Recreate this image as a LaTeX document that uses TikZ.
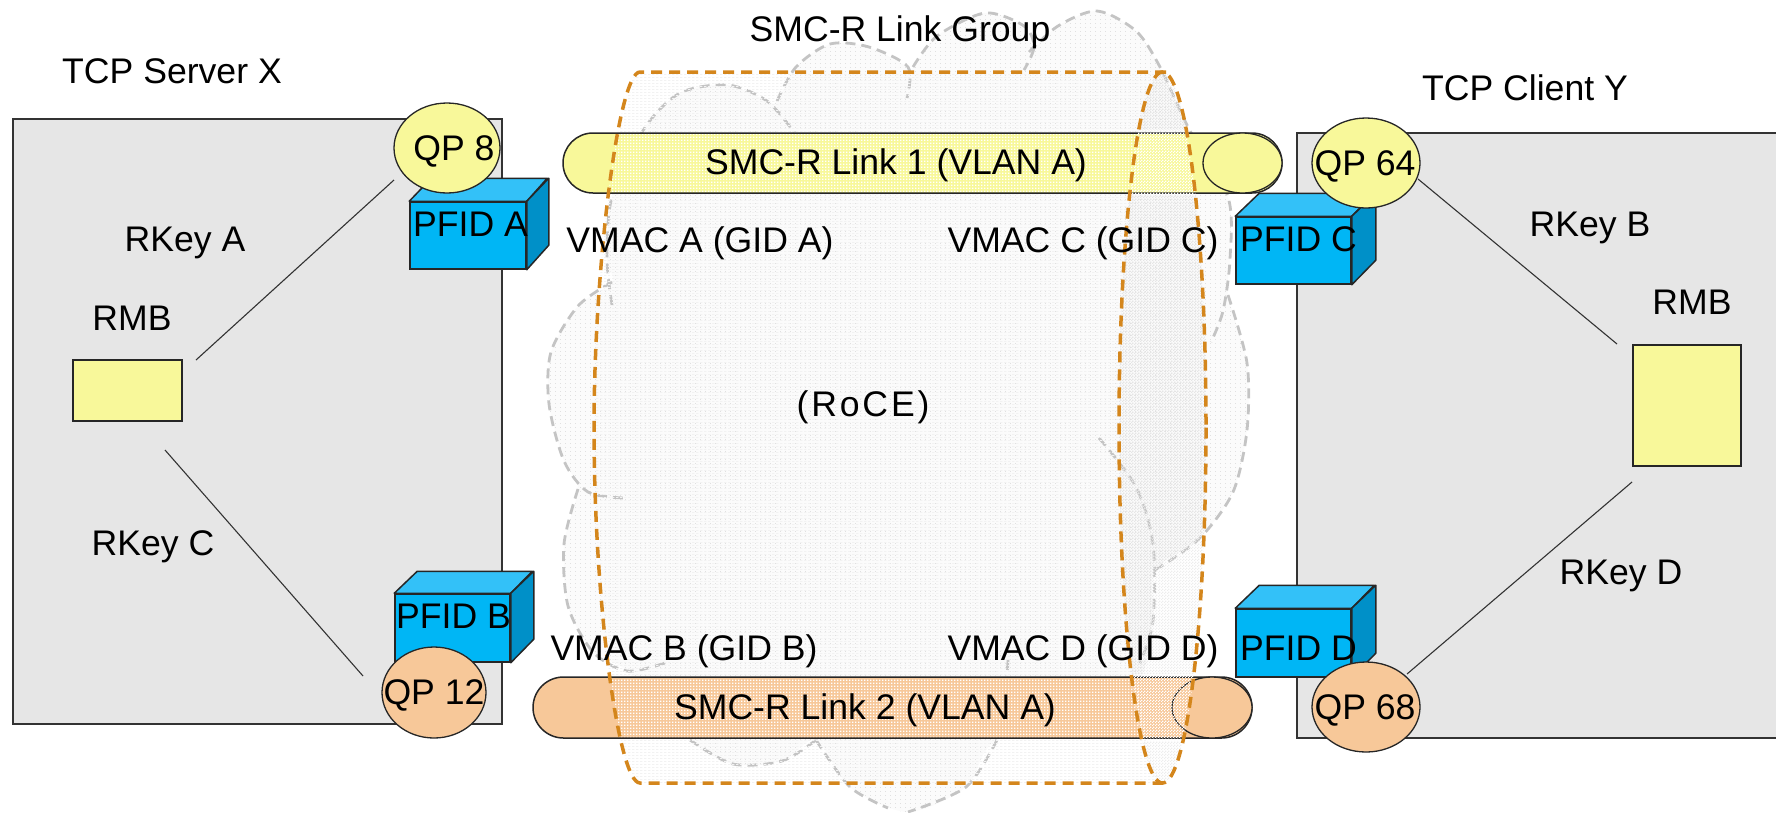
\documentclass[tikz,border=0pt]{standalone}
\usepackage{fontspec}
\setmainfont{Liberation Sans}
\usetikzlibrary{shapes.geometric,shapes.misc,patterns}
\definecolor{boxgray}{HTML}{E6E6E6}
\definecolor{ylw}{HTML}{F8F89A}
\definecolor{org}{HTML}{F7C899}
\definecolor{cubef}{HTML}{00B6F5}
\definecolor{cubet}{HTML}{33C1F8}
\definecolor{cubes}{HTML}{0090C8}
\definecolor{canline}{HTML}{D4861C}
\definecolor{cloudline}{HTML}{C4C4C4}
\pgfdeclarepatternformonly{sparsedots}{\pgfqpoint{0pt}{0pt}}{\pgfqpoint{1pt}{1pt}}{\pgfqpoint{5pt}{4pt}}{%
  \pgfpathrectangle{\pgfqpoint{0pt}{0pt}}{\pgfqpoint{1.4pt}{1.2pt}}\pgfusepath{fill}}
\pgfdeclarepatternformonly{brick}{\pgfqpoint{0pt}{0pt}}{\pgfqpoint{4pt}{3pt}}{\pgfqpoint{4pt}{3pt}}{%
  \pgfpathrectangle{\pgfqpoint{0pt}{0pt}}{\pgfqpoint{3pt}{1pt}}\pgfusepath{fill}}
\pgfdeclarepatternformonly{whitedots}{\pgfqpoint{0pt}{0pt}}{\pgfqpoint{3pt}{3pt}}{\pgfqpoint{3pt}{3pt}}{%
  \pgfpathrectangle{\pgfqpoint{0pt}{0pt}}{\pgfqpoint{1.8pt}{1.8pt}}\pgfusepath{fill}}
\pgfdeclarepatternformonly{checks}{\pgfqpoint{0pt}{0pt}}{\pgfqpoint{3pt}{3pt}}{\pgfqpoint{3pt}{3pt}}{%
  \pgfpathrectangle{\pgfqpoint{0pt}{0pt}}{\pgfqpoint{1.5pt}{1.5pt}}%
  \pgfpathrectangle{\pgfqpoint{1.5pt}{1.5pt}}{\pgfqpoint{1.5pt}{1.5pt}}\pgfusepath{fill}}
\tikzset{
  x=1pt,y=-1pt,
  lbl/.style={inner sep=0pt,font=\fontsize{35.6}{38}\selectfont,text=black,yshift=-3.5pt},
  hostbox/.style={rectangle,draw=black!80,line width=1.5pt,fill=boxgray,inner sep=0pt},
  rmbbox/.style={rectangle,draw=black!85,line width=1.5pt,fill=ylw,inner sep=0pt},
  qpy/.style={ellipse,draw=black!85,line width=1.3pt,fill=ylw,inner sep=0pt},
  qpo/.style={qpy,fill=org},
  link/.style={rounded rectangle,draw=black!85,line width=1.5pt,inner sep=0pt},
  cubefront/.style={rectangle,draw=black!85,line width=1.5pt,fill=cubef,inner sep=0pt},
  keyline/.style={draw=black!80,line width=1.1pt},
  cubeedge/.style={draw=black!85,line width=1.5pt,line join=round},
  cloudedge/.style={draw=cloudline,line width=2.8pt,dash pattern=on 10pt off 6pt},
  canedge/.style={draw=canline,line width=3.5pt,dash pattern=on 11pt off 7pt},
}
\def\cloudpts{(612,282)(607,259)(612,197)(644,129)(680,93)(728,85)(767,101)(777,101)(796,67)(830,44)(869,47)(908,67)(913,67)(937,36)(985,13)(1024,26)(1034,47)(1058,26)(1097,11)(1136,31)(1160,67)(1189,129)(1228,197)(1230,259)(1228,295)(1247,363)(1247,430)(1233,492)(1199,539)(1155,570)(1153,621)(1140,680)(1100,720)(997,740)(966,787)(908,812)(850,787)(816,740)(782,761)(733,764)(690,740)(627,671)(593,652)(568,606)(564,544)(578,489)(564,461)(549,404)(551,352)(578,306)}
\def\canbody{(640,72) -- (1166,72) .. controls (1150,72) and (1119,250) .. (1119,428) .. controls (1119,606) and (1150,783) .. (1163,783) -- (640,783) .. controls (618,783) and (594,600) .. (594,428) .. controls (594,270) and (618,72) .. (640,72) -- cycle}
\def\canopen{(1166,72) -- (640,72) .. controls (618,72) and (594,270) .. (594,428) .. controls (594,600) and (618,783) .. (640,783) -- (1163,783)}
\def\cancap{(1162.5,427.5) ellipse [x radius=43.5,y radius=355.5]}
\begin{document}
\begin{tikzpicture}
\useasboundingbox (0,0) rectangle (1776,812);
% host boxes
\node[hostbox,minimum width=489pt,minimum height=605pt] (hostx) at (257.5,421.5) {};
\fill[boxgray] (1297,133) rectangle (1776,738);
\node[inner sep=0pt,minimum width=480pt,minimum height=605pt] (hosty) at (1537,435.5) {};
\draw[draw=black!80,line width=1.5pt] (hosty.north east) -- (hosty.north west) -- (hosty.south west) -- (hosty.south east);
% cloud
\path[fill=white!98.5!black] plot[smooth cycle,tension=0.5] coordinates {\cloudpts};
\path[pattern=sparsedots,pattern color=black!12] plot[smooth cycle,tension=0.5] coordinates {\cloudpts};
\draw[cloudedge] plot[smooth] coordinates {(612,305)(607,259)(612,197)(644,129)(680,93)(728,85)(767,101)(794,132)};
\draw[cloudedge] plot[smooth] coordinates {(777,101)(796,67)(830,44)(869,47)(908,67)(907,98)};
\draw[cloudedge] plot[smooth] coordinates {(913,67)(937,36)(985,13)(1024,26)(1034,47)(1024,70)};
\draw[cloudedge] plot[smooth] coordinates {(1029,52)(1058,26)(1097,11)(1136,31)(1160,67)(1189,129)(1228,197)(1230,259)(1223,311)(1211,342)};
\draw[cloudedge] plot[smooth] coordinates {(1228,295)(1247,363)(1247,430)(1233,492)(1199,539)(1155,570)};
\draw[cloudedge] plot[smooth] coordinates {(1099,438)(1136,487)(1153,544)(1153,621)(1140,663)};
\draw[cloudedge] plot[smooth] coordinates {(997,740)(966,787)(908,812)};
\draw[cloudedge] plot[smooth] coordinates {(816,740)(850,787)(888,808)};
\draw[cloudedge] plot[smooth] coordinates {(690,740)(733,764)(782,761)(816,740)};
\draw[cloudedge] plot[smooth] coordinates {(578,489)(564,544)(568,606)(593,652)(627,671)(665,663)};
\draw[cloudedge] plot[smooth] coordinates {(612,282)(578,306)(551,352)(549,404)(564,461)(588,492)(624,498)};
\draw[cloudedge] (1008,660) -- (1007,676);
% can interior shading under the links
\path[pattern=brick,pattern color=black!5] \canbody;
\path[pattern=checks,pattern color=black!7] \cancap;
\begin{scope}
\clip plot[smooth cycle,tension=0.5] coordinates {\cloudpts};
\path[pattern=checks,pattern color=black!10] \cancap;
\end{scope}
% RMB boxes and key lines
\node[rmbbox,minimum width=109pt,minimum height=61pt] (rmbx) at (127.5,390.5) {};
\node[rmbbox,minimum width=108pt,minimum height=121pt] (rmby) at (1687,405.5) {};
\coordinate (ka) at (196,360); \coordinate (kb) at (394,180);
\coordinate (kc) at (165,450); \coordinate (kd) at (363,676);
\coordinate (ke) at (1418,179); \coordinate (kf) at (1617,344);
\coordinate (kg) at (1632,482); \coordinate (kh) at (1407,674);
\draw[keyline] (ka) -- (kb);
\draw[keyline] (kc) -- (kd);
\draw[keyline] (ke) -- (kf);
\draw[keyline] (kg) -- (kh);
% links
\node[link,fill=ylw,minimum width=719pt,minimum height=60pt] (link1) at (922.5,163) {};
\node[ellipse,draw=black!85,line width=1.3pt,fill=ylw,inner sep=0pt,minimum width=79pt,minimum height=60pt] (cap1) at (1242.5,163) {};
\node[link,fill=org,minimum width=719pt,minimum height=61pt] (link2) at (892.5,707.5) {};
\node[ellipse,draw=black!85,line width=1.3pt,fill=org,inner sep=0pt,minimum width=80pt,minimum height=61pt] (cap2) at (1212,707.5) {};
% cubes
\node[cubefront,minimum width=116pt,minimum height=67pt] (fa) at (468,235.5) {};
\draw[cubeedge,fill=cubet] (fa.north west) -- ++(22,-23) -- ++(116,0) -- (fa.north east) -- cycle;
\draw[cubeedge,fill=cubes] (fa.north east) -- ++(22,-23) -- ++(0,67) -- (fa.south east) -- cycle;
\node[cubefront,minimum width=115pt,minimum height=68pt] (fb) at (452.5,628) {};
\draw[cubeedge,fill=cubet] (fb.north west) -- ++(23,-22) -- ++(115,0) -- (fb.north east) -- cycle;
\draw[cubeedge,fill=cubes] (fb.north east) -- ++(23,-22) -- ++(0,68) -- (fb.south east) -- cycle;
\node[cubefront,minimum width=115pt,minimum height=67pt] (fc) at (1293.5,250.5) {};
\draw[cubeedge,fill=cubet] (fc.north west) -- ++(24,-23) -- ++(115,0) -- (fc.north east) -- cycle;
\draw[cubeedge,fill=cubes] (fc.north east) -- ++(24,-23) -- ++(0,67) -- (fc.south east) -- cycle;
\node[cubefront,minimum width=115pt,minimum height=68pt] (fd) at (1293.5,643) {};
\draw[cubeedge,fill=cubet] (fd.north west) -- ++(24,-23) -- ++(115,0) -- (fd.north east) -- cycle;
\draw[cubeedge,fill=cubes] (fd.north east) -- ++(24,-23) -- ++(0,68) -- (fd.south east) -- cycle;
% queue pairs
\node[qpy,minimum width=106pt,minimum height=90pt] (qp8) at (447,148) {};
\node[qpy,minimum width=108pt,minimum height=90pt] (qp64) at (1366,163) {};
\node[qpo,minimum width=104pt,minimum height=91pt] (qp12) at (434,692.5) {};
\node[qpo,minimum width=108pt,minimum height=90pt] (qp68) at (1366,707) {};
% can overlay: pale stipple where it crosses the links
\begin{scope}
\clip (564,134) rectangle (1283,192) (534,678) rectangle (1253,737);
\path[pattern=whitedots,pattern color=white] \canbody;
\end{scope}
\begin{scope}
\clip (564,130) rectangle (1283,196) (534,674) rectangle (1253,741);
\path[pattern=checks,pattern color=white] \cancap;
\end{scope}
\draw[canedge] \canopen;
\draw[canedge] \cancap;
% texts
\node[lbl] (t1) at (172,68) {TCP  Server X};
\node[lbl] (t2) at (900,29) {SMC-R Link Group};
\node[lbl] (t3) at (1525,84) {TCP Client Y};
\node[lbl] (t4) at (185,239) {RKey A};
\node[lbl] (t5) at (132,315) {RMB};
\node[lbl] (t6) at (153,543) {RKey C};
\node[lbl] (t7) at (1590,224) {RKey B};
\node[lbl] (t8) at (1692,299) {RMB};
\node[lbl] (t9) at (1621,572) {RKey D};
\node[lbl] (t10) at (700,240) {VMAC A (GID A)};
\node[lbl] (t11) at (1083,240) {VMAC C (GID C)};
\node[lbl] (t12) at (684,648) {VMAC B (GID B)};
\node[lbl] (t13) at (1083,648) {VMAC D (GID D)};
\node[lbl,font=\fontsize{35.6}{38}\selectfont\addfontfeature{LetterSpace=8}] (t14) at (863,404) {(RoCE)};
\node[lbl] (t15) at (896,162) {SMC-R Link 1 (VLAN A)};
\node[lbl] (t16) at (865,707) {SMC-R Link 2 (VLAN A)};
\node[lbl,anchor=west] (t17) at (413,220.5) {PFID A};
\node[lbl,anchor=west] (t18) at (396,612.5) {PFID B};
\node[lbl,anchor=west] (t19) at (1240,236) {PFID C};
\node[lbl,anchor=west] (t20) at (1240,645) {PFID D};
\node[lbl] (t21) at (454,148) {QP 8};
\node[lbl] (t22) at (1365,163) {QP 64};
\node[lbl] (t23) at (434,692) {QP 12};
\node[lbl] (t24) at (1365,707) {QP 68};
\end{tikzpicture}
\end{document}
